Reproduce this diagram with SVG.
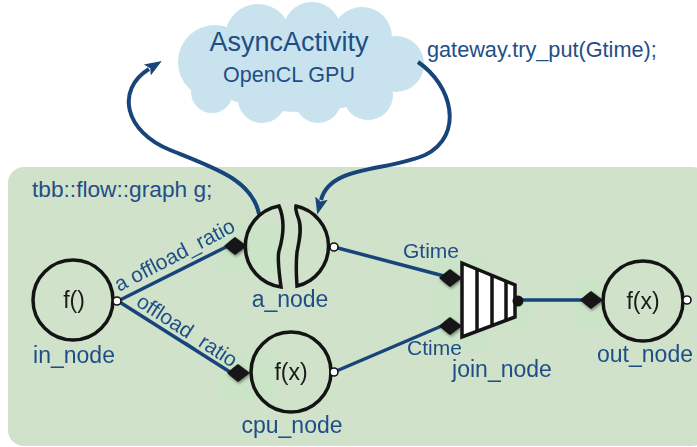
<svg xmlns="http://www.w3.org/2000/svg" width="697" height="447" viewBox="0 0 697 447">
  <style>
    .lbl { font-family: "Liberation Sans", Arial, sans-serif; fill: #1f4e86; }
    .mid { text-anchor: middle; }
    .fn { font-family: "Liberation Sans", Arial, sans-serif; fill: #1a1a1a; font-size: 23px; text-anchor: middle; }
    .node { fill: none; stroke: #141414; stroke-width: 3.5; }
    .port { fill: #ffffff; stroke: #141414; stroke-width: 1.6; }
    .edge { fill: none; stroke: #17457a; stroke-width: 3.5; }
    .loop { fill: none; stroke: #17457a; stroke-width: 4; }
    .cloud { fill: #c8e2ee; }
    .halo { fill: #c9e4c4; opacity: 0.7; }
  </style>
  <defs>
    <marker id="head" markerUnits="userSpaceOnUse" markerWidth="18" markerHeight="16" refX="2" refY="8" orient="auto">
      <path d="M0,1.5 L17,8 L0,14.5 L3.5,8 Z" fill="#17457a"/>
    </marker>
    <filter id="soft" x="-50%" y="-50%" width="200%" height="200%">
      <feDropShadow dx="1" dy="1.5" stdDeviation="1.6" flood-color="#000" flood-opacity="0.45"/>
    </filter>
    <!-- horizontal input-port arrowhead, tip at origin -->
    <path id="inport" d="M0,0 L-12,-9 L-16,-6 L-23,0 L-16,6 L-12,9 Z" fill="#141414"/>
  </defs>

  <!-- graph panel -->
  <rect x="8" y="167" width="700" height="279" rx="16" fill="#d0e2c9"/>
  <text class="lbl" x="32" y="197" font-size="22.7">tbb::flow::graph g;</text>

  <!-- faint shading around ports -->
  <g id="port-shading">
    <rect class="halo" x="217" y="225" width="65" height="48"/>
    <rect class="halo" x="220" y="350" width="55" height="50"/>
    <rect class="halo" x="433" y="257" width="54" height="95"/>
    <rect class="halo" x="512" y="292" width="20" height="40"/>
    <rect class="halo" x="573" y="280" width="30" height="50"/>
  </g>

  <!-- async activity cloud -->
  <g id="async_activity">
    <circle class="cloud" cx="215" cy="62" r="37"/>
    <circle class="cloud" cx="258" cy="37" r="33"/>
    <circle class="cloud" cx="312" cy="31" r="29"/>
    <circle class="cloud" cx="362" cy="37" r="30"/>
    <circle class="cloud" cx="396" cy="64" r="28"/>
    <circle class="cloud" cx="368" cy="95" r="25"/>
    <circle class="cloud" cx="318" cy="100" r="23"/>
    <circle class="cloud" cx="262" cy="99" r="24"/>
    <circle class="cloud" cx="212" cy="92" r="21"/>
    <ellipse class="cloud" cx="300" cy="66" rx="102" ry="46"/>
    <text class="lbl mid" x="289" y="51" font-size="27">AsyncActivity</text>
    <text class="lbl mid" x="289" y="82" font-size="21.5">OpenCL GPU</text>
  </g>
  <text class="lbl" x="427" y="57" font-size="21.7">gateway.try_put(Gtime);</text>

  <!-- connectors -->
  <g id="connectors">
    <path class="loop" d="M259,214 C252,180 215,168 170,150 C125,132 115,90 149,69" marker-end="url(#head)"/>
    <path class="loop" d="M418,62 C452,85 465,135 425,155 C385,172 330,165 321,200" marker-end="url(#head)"/>

    <line class="edge" x1="118" y1="301" x2="228" y2="246"/>
    <line class="edge" x1="118" y1="301" x2="230" y2="372"/>
    <line class="edge" x1="334" y1="247" x2="444" y2="276"/>
    <line class="edge" x1="334" y1="372" x2="444" y2="325"/>
    <line class="edge" x1="520" y1="300" x2="585" y2="300"/>

    <g filter="url(#soft)">
      <use href="#inport" x="247" y="246"/>
      <use href="#inport" x="250" y="373"/>
      <use href="#inport" x="462" y="278"/>
      <use href="#inport" x="462" y="326"/>
      <use href="#inport" x="603" y="300"/>
    </g>

    <text class="lbl" font-size="21" transform="translate(119,292) rotate(-27.5)">a offload_ratio</text>
    <text class="lbl" font-size="21" transform="translate(135,305) rotate(33)">offload_ratio</text>
    <text class="lbl" x="403" y="258" font-size="21">Gtime</text>
    <text class="lbl" x="407" y="355" font-size="21">Ctime</text>
  </g>

  <!-- in_node -->
  <g id="in_node">
    <circle class="node" cx="73" cy="300" r="40"/>
    <circle class="port" cx="117" cy="301" r="4"/>
    <text class="fn" x="74" y="308">f()</text>
    <text class="lbl mid" x="74" y="363" font-size="23">in_node</text>
  </g>

  <!-- a_node: split async node -->
  <g id="a_node">
    <path class="node" d="M279,206 A41,41 0 0 0 281,287 C279,272 277,258 279,251 C282,241 286,222 279,206 Z"/>
    <path class="node" d="M296,206 A41,41 0 0 1 297,286 C296,272 296,262 297,252 C299,242 302,230 299,220 C297,214 295,210 296,206 Z"/>
    <circle class="port" cx="334" cy="247" r="4"/>
    <text class="lbl mid" x="290" y="307" font-size="23">a_node</text>
  </g>

  <!-- cpu_node -->
  <g id="cpu_node">
    <circle class="node" cx="291" cy="372" r="40"/>
    <circle class="port" cx="334" cy="372" r="4"/>
    <text class="fn" x="291" y="380">f(x)</text>
    <text class="lbl mid" x="292" y="433" font-size="23">cpu_node</text>
  </g>

  <!-- join_node -->
  <g id="join_node">
    <polygon points="462,263 515,285 515,317 462,337" fill="#ffffff"/>
    <g stroke="#141414" stroke-width="3.5">
      <line x1="477" y1="269" x2="477" y2="331"/>
      <line x1="492" y1="275" x2="492" y2="326"/>
      <line x1="506" y1="281" x2="506" y2="320"/>
    </g>
    <polygon class="node" points="462,263 515,285 515,317 462,337"/>
    <circle cx="518" cy="301" r="5.5" fill="#141414"/>
    <text class="lbl mid" x="502" y="377" font-size="23">join_node</text>
  </g>

  <!-- out_node -->
  <g id="out_node">
    <circle class="node" cx="643" cy="301" r="40"/>
    <circle class="port" cx="687" cy="300" r="4"/>
    <text class="fn" x="643" y="309">f(x)</text>
    <text class="lbl mid" x="645" y="362" font-size="23">out_node</text>
  </g>
</svg>
